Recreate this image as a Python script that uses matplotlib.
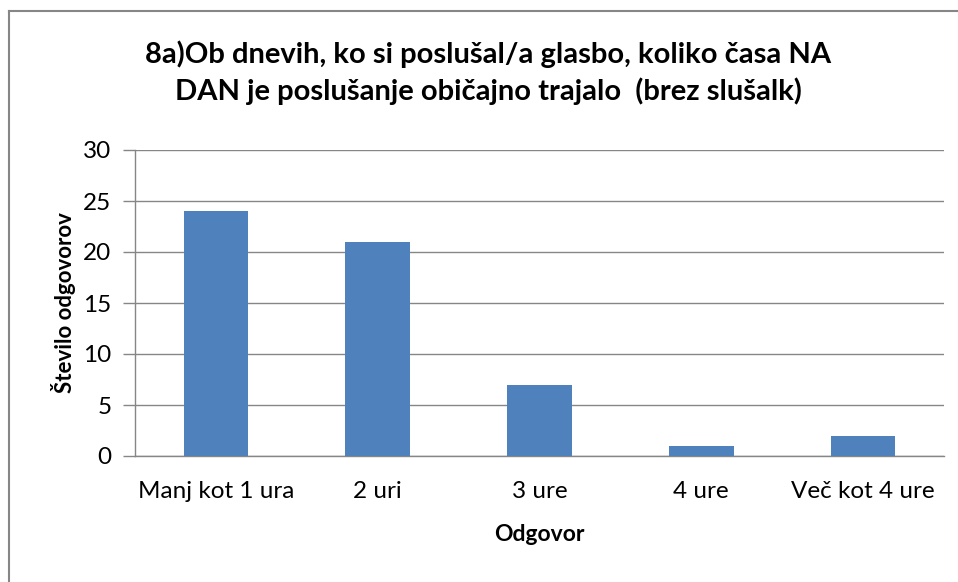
import matplotlib.pyplot as plt
from matplotlib.lines import Line2D

# Podatki
kategorije = ['Manj kot 1 ura', '2 uri', '3 ure', '4 ure', 'Več kot 4 ure']
odgovori = [24, 21, 7, 1, 2]
y_ticks = [0, 5, 10, 15, 20, 25, 30]

plt.rcParams['font.family'] = ['Lato', 'DejaVu Sans']

W, H = 958, 582
fig = plt.figure(figsize=(W / 100, H / 100), dpi=100)
ax = fig.add_axes([135 / W, 1 - 456 / H, (944 - 135) / W, (456 - 150) / H])

x = range(len(kategorije))
ax.bar(x, odgovori, width=0.4, color='#4F81BD', zorder=3)

ax.set_xlim(-0.5, len(kategorije) - 0.5)
ax.set_ylim(0, 30)
ax.set_yticks(y_ticks)
ax.set_xticks(list(x))
ax.set_xticklabels(kategorije)
ax.tick_params(axis='y', length=9, width=1, color='#868686', labelsize=17.5, pad=8)
ax.tick_params(axis='x', length=0, labelsize=17.5, pad=18)
ax.yaxis.grid(True, color='#868686', linewidth=1, zorder=0)

for s in ['top', 'right']:
    ax.spines[s].set_visible(False)
for s in ['left', 'bottom']:
    ax.spines[s].set_color('#868686')
    ax.spines[s].set_linewidth(1)

ax.set_ylabel('Število odgovorov', fontsize=16, fontweight='bold', labelpad=5)
ax.set_xlabel('Odgovor', fontsize=16.5, fontweight='bold', labelpad=16)

fig.text(488 / W, 1 - 73 / H,
         '8a)Ob dnevih, ko si poslušal/a glasbo, koliko časa NA\n'
         'DAN je poslušanje običajno trajalo  (brez slušalk)',
         ha='center', va='center', fontsize=21, fontweight='bold',
         linespacing=1.42)

# okvir grafikona
fig.add_artist(Line2D([9 / W, 9 / W], [0, 1 - 11 / H], color='#868686',
                      linewidth=1.5, transform=fig.transFigure))
fig.add_artist(Line2D([9 / W, 1], [1 - 11 / H, 1 - 11 / H], color='#868686',
                      linewidth=1.5, transform=fig.transFigure))

fig.savefig('out.png', dpi=100)
